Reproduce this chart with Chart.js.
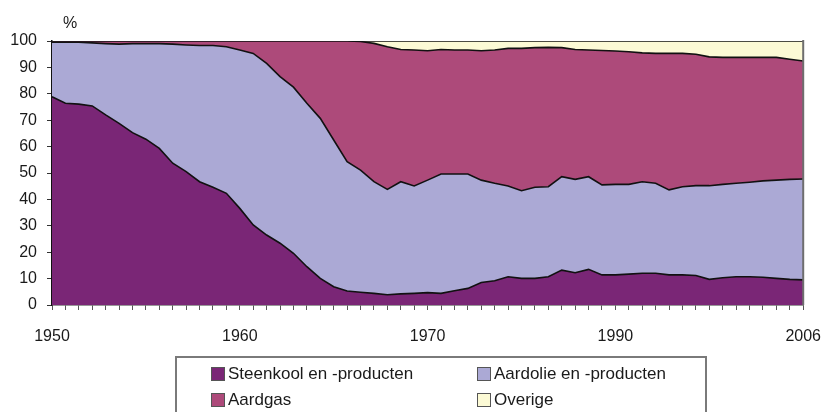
<!DOCTYPE html>
<html>
<head>
<meta charset="utf-8">
<script src="https://cdn.jsdelivr.net/npm/chart.js@4.4.1/dist/chart.umd.min.js"></script>
<style>
    body { margin: 0; background: #fff; }
    .wrap { position: relative; width: 838px; height: 412px; overflow: hidden; }
    #legend {
        position: absolute; left: 175px; top: 356px; width: 532px; height: 70px;
        box-sizing: border-box; border: 2px solid #7a7a7a;
        display: grid; grid-template-columns: 266px 230px; grid-auto-rows: 26px;
        padding: 3px 0 0 34px;
        font: 17px 'Liberation Sans', Arial, sans-serif; color: #1a1a1a;
    }
    .item { display: flex; align-items: center; white-space: nowrap; }
    .swatch { width: 14px; height: 14px; box-sizing: border-box; border: 1px solid #555; margin-right: 3px; }
</style>
</head>
<body>
<div class="wrap">
    <canvas id="chart" width="838" height="412"></canvas>
    <div id="legend"></div>
</div>
<script>
// categories: one point per year
const years = [
    1950, 1951, 1952, 1953, 1954, 1955, 1956, 1957, 1958, 1959,
    1960, 1961, 1962, 1963, 1964, 1965, 1966, 1967, 1968, 1969,
    1970, 1971, 1972, 1973, 1974, 1975, 1976, 1977, 1978, 1979,
    1980, 1981, 1982, 1983, 1984, 1985, 1986, 1987, 1988, 1989,
    1990, 1991, 1992, 1993, 1994, 1995, 1996, 1997, 1998, 1999,
    2000, 2001, 2002, 2003, 2004, 2005, 2006
];

// tick labels as printed on the original axis (one every 14 categories)
const xTickLabels = ['1950', '1960', '1970', '1990', '2006'];
const labelStep = 14;

const seriesNames = ['Steenkool en -producten', 'Aardolie en -producten', 'Aardgas', 'Overige'];
const seriesColors = ['#7a2676', '#aba9d5', '#ad4a7a', '#fcfad5'];

// shares in %
const steenkool = [
    78.9, 76.4, 76.1, 75.4, 72.0, 68.8, 65.3, 62.8, 59.3, 53.7,
    50.5, 46.7, 44.6, 42.3, 36.6, 30.3, 26.5, 23.4, 19.6, 14.5,
    10.1, 6.9, 5.3, 4.8, 4.4, 3.9, 4.2, 4.4, 4.7, 4.4,
    5.4, 6.3, 8.5, 9.2, 10.7, 10.1, 10.1, 10.7, 13.2, 12.2,
    13.5, 11.4, 11.4, 11.7, 12.0, 12.0, 11.4, 11.4, 11.2, 9.7,
    10.3, 10.7, 10.7, 10.5, 10.1, 9.7, 9.5
];
const aardolie = [
    20.6, 23.1, 23.4, 23.9, 27.0, 30.0, 33.7, 36.2, 39.7, 45.1,
    48.0, 51.6, 53.7, 55.5, 60.0, 65.0, 65.0, 63.1, 62.9, 61.9,
    60.6, 55.6, 49.0, 46.3, 42.3, 39.9, 42.5, 40.7, 42.6, 45.2,
    44.2, 43.3, 38.8, 36.9, 34.4, 33.2, 34.5, 34.1, 35.4, 35.4,
    35.1, 34.1, 34.3, 34.0, 34.7, 34.1, 32.2, 33.4, 34.0, 35.5,
    35.4, 35.4, 35.8, 36.5, 37.2, 37.9, 38.2
];
const aardgas = [
    0.5, 0.5, 0.5, 0.7, 1.0, 1.2, 1.0, 1.0, 1.0, 1.2,
    1.5, 1.7, 1.7, 2.2, 3.4, 4.7, 8.5, 13.5, 17.5, 23.6,
    29.3, 37.5, 45.7, 48.7, 52.4, 54.0, 50.1, 51.5, 49.0, 47.2,
    47.0, 47.0, 49.0, 50.5, 52.1, 53.9, 52.9, 52.8, 48.9, 49.2,
    48.0, 50.9, 50.5, 50.2, 48.8, 49.2, 51.7, 50.5, 49.8, 48.8,
    48.1, 47.7, 47.3, 46.8, 46.5, 45.5, 44.7
];
const overige = [
    0, 0, 0, 0, 0, 0, 0, 0, 0, 0,
    0, 0, 0, 0, 0, 0, 0, 0, 0, 0,
    0, 0, 0, 0.2, 0.9, 2.2, 3.2, 3.4, 3.7, 3.2,
    3.4, 3.4, 3.7, 3.4, 2.8, 2.8, 2.5, 2.4, 2.5, 3.2,
    3.4, 3.6, 3.8, 4.1, 4.5, 4.7, 4.7, 4.7, 5.0, 6.0,
    6.2, 6.2, 6.2, 6.2, 6.2, 6.9, 7.6
];

const yTicks = { min: 0, max: 100, step: 10 };

const axisFont = { family: "'Liberation Sans Narrow', 'Arial Narrow', 'Liberation Sans', Arial, sans-serif", size: 16 };

const seriesData = [steenkool, aardolie, aardgas, overige];

const datasets = seriesData.map((values, i) => ({
    label: seriesNames[i],
    data: values,
    backgroundColor: seriesColors[i],
    borderColor: '#111111',
    borderWidth: 1.6,
    pointRadius: 0,
    tension: 0,
    fill: i === 0 ? 'origin' : '-1'
}));

// percent sign above the y axis + grey right edge of the plot frame
const framePlugin = {
    id: 'frame',
    afterDatasetsDraw(chart) {
        const { ctx, chartArea } = chart;
        ctx.save();
        ctx.strokeStyle = '#6e6e6e';
        ctx.lineWidth = 2;
        ctx.beginPath();
        ctx.moveTo(chartArea.right, chartArea.top - 1);
        ctx.lineTo(chartArea.right, chartArea.bottom);
        ctx.stroke();

        ctx.fillStyle = '#1a1a1a';
        ctx.font = `${axisFont.size}px ${axisFont.family}`;
        ctx.textAlign = 'center';
        ctx.textBaseline = 'middle';
        ctx.fillText('%', chartArea.left + 18, chartArea.top - 17);
        ctx.restore();
    }
};

new Chart(document.getElementById('chart'), {
    type: 'line',
    data: { labels: years, datasets },
    options: {
        responsive: false,
        animation: false,
        layout: { padding: { top: 41, right: 19, left: 0, bottom: 0 } },
        plugins: {
            legend: { display: false },
            tooltip: { enabled: false },
            filler: { propagate: false }
        },
        scales: {
            x: {
                offset: false,
                grid: { display: true, drawOnChartArea: false, tickLength: 5, color: '#555', lineWidth: 1 },
                border: { display: true, color: '#333', width: 1.5 },
                ticks: {
                    autoSkip: false,
                    maxRotation: 0,
                    padding: 17,
                    color: '#1a1a1a',
                    font: axisFont,
                    callback: (value, index) => index % labelStep === 0 ? xTickLabels[index / labelStep] : ''
                },
                afterFit: (scale) => { scale.height = 107; }
            },
            y: {
                stacked: true,
                min: yTicks.min,
                max: yTicks.max,
                grid: { display: true, drawOnChartArea: false, tickLength: 5, color: '#333' },
                border: { display: true, color: '#111', width: 1.5 },
                ticks: { stepSize: yTicks.step, padding: 10, color: '#1a1a1a', font: axisFont },
                afterFit: (scale) => { scale.width = 52; }
            }
        }
    },
    plugins: [framePlugin]
});

// html legend, two columns inside a framed box
const legendEl = document.getElementById('legend');
seriesNames.forEach((name, i) => {
    const item = document.createElement('div');
    item.className = 'item';
    const sw = document.createElement('span');
    sw.className = 'swatch';
    sw.style.background = seriesColors[i];
    item.appendChild(sw);
    item.appendChild(document.createTextNode(name));
    legendEl.appendChild(item);
});
</script>
</body>
</html>
